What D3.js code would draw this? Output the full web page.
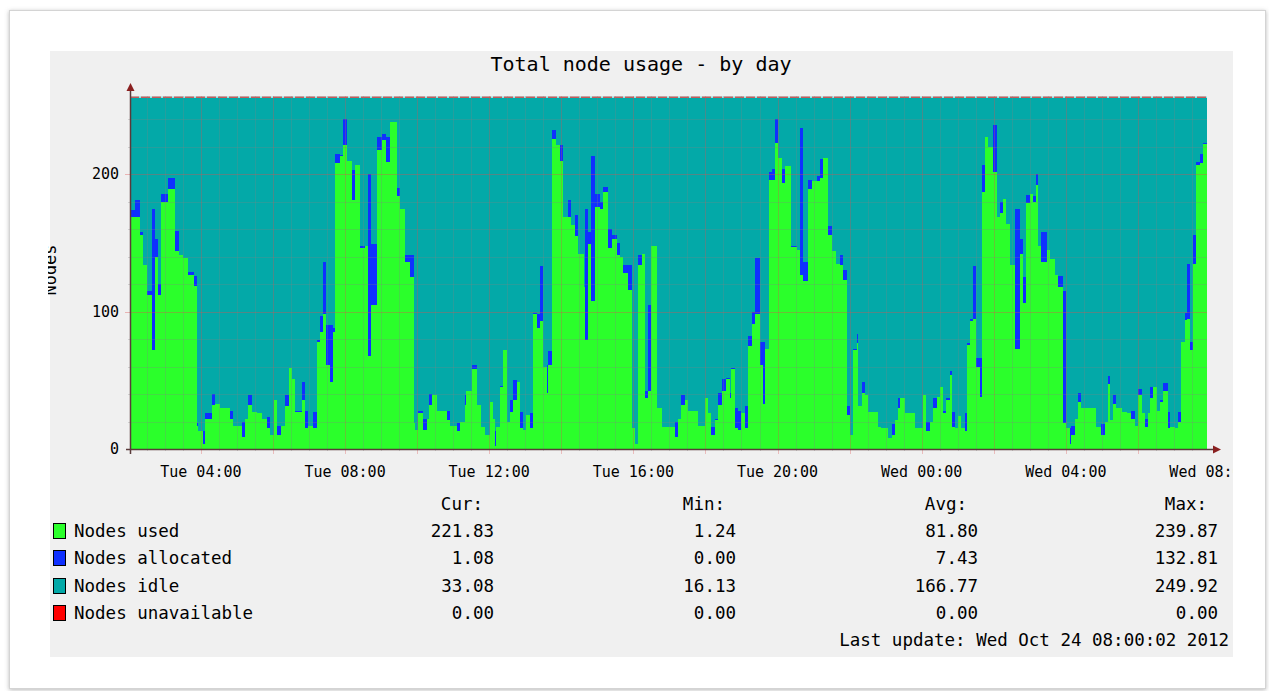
<!DOCTYPE html>
<html>
<head>
<meta charset="utf-8">
<script src="https://cdnjs.cloudflare.com/ajax/libs/d3/7.8.5/d3.min.js"></script>
<style>
    body { margin: 0; background: #ffffff; }
    svg text { font-family: "DejaVu Sans Mono", monospace; fill: #000; }
</style>
</head>
<body>
<div id="graph-container"></div>
<script>
// samples: minutes after Tue Oct 23 2012 02:00, values in nodes
var sampleMin = [2,10,19,24,30,38,44,49,54,66,77,83,91,99,108,113,116,124,127,138,144,152,169,174,188,193,199,205,213,221,230,235,241,246,254,260,266,271,277,288,293,299,307,313,318,324,329,335,340,344,352,357,363,371,377,385,393,399,404,413,421,429,435,446,451,460,468,474,476,482,490,496,499,504,513,529,535,546,551,560,562,571,579,587,593,601,607,610,612,618,623,629,635,640,646,651,657,662,668,673,679,684,690,696,698,704,712,718,723,732,737,743,748,757,759,765,770,776,784,790,798,804,812,818,823,831,838,843,848,854,859,865,870,879,887,909,915,920,926,931,948,959,965,970,976,981,987,995,1001,1003,1009,1015,1020,1026,1031,1037,1042,1051,1056,1059,1065,1070,1076,1081,1087,1092,1103,1112,1117,1123,1131,1137,1145,1150,1156,1164,1170,1178,1184,1189,1195,1200,1206,1212,1214,1220,1225,1231,1248,1253,1264,1270,1275,1281,1284,1292,1309,1322,1328,1334,1339,1345,1350,1356,1361,1367,1370,1375,1381,1386,1392,1395,1400,1406,1411,1417,1420,1425,1431,1439,1445,1450,1456,1461,1467,1475,1483,1489,1494,1500,1506,1511,1514,1519,1528,1533,1542,1547,1556,1561,1567,1569,1575,1580,1586,1611,1619,1625,1630,1633,1639,1644,1653,1661,1669,1675,1680,1686,1691,1697,1700,1705,1711,1716,1722,1730,1733,1741,1747,1752,1758,1761,1766,1772,1777,1783,1788];
var nodesUsed = [169,169,156,134,112,72,140,112,180,189,144,141,139,127,119,17,13,4,22,32,33,30,22,17,9,22,32,27,26,22,15,10,36,10,17,31,59,51,27,36,15,17,15,78,85,98,61,49,85,208,213,221,210,181,207,146,148,68,105,218,225,209,238,184,175,136,125,19,14,26,14,22,32,39,28,21,17,13,20,32,42,58,32,16,10,34,22,2,16,45,72,20,27,36,49,15,14,25,15,98,88,93,60,41,61,226,221,210,169,169,163,155,142,118,79,149,108,176,175,187,146,153,141,140,128,116,15,4,134,142,37,42,148,30,16,9,22,32,36,28,17,37,26,10,21,32,42,51,37,58,15,14,26,15,75,91,98,61,33,73,196,196,223,212,194,206,147,145,127,122,189,195,195,197,212,156,144,135,134,123,25,10,72,77,31,41,39,27,16,15,8,10,21,30,37,26,15,39,13,20,30,38,45,26,36,54,16,15,24,15,13,76,93,95,60,38,187,227,220,202,169,172,182,164,134,73,142,106,179,186,180,192,148,136,145,138,127,118,19,15,4,10,22,34,30,16,10,20,47,21,33,30,27,26,22,17,39,26,16,26,37,45,28,34,42,15,16,15,20,78,94,95,72,135,207,208,222];
var nodesAllocated = [5,12,2,0,3,103,13,8,6,8,15,0,0,2,7,2,0,9,4,8,0,0,6,0,11,0,7,0,0,0,8,0,0,7,0,8,0,0,1,13,13,0,12,1,12,38,29,41,3,7,1,19,0,22,0,2,0,132,44,9,4,18,0,6,0,5,16,0,0,2,8,0,8,0,0,7,0,6,0,7,0,3,0,0,0,0,0,11,0,1,0,0,9,14,0,12,0,0,11,1,10,40,0,20,10,6,0,11,0,12,0,15,0,0,96,9,105,10,5,4,14,3,9,0,6,18,0,0,7,0,5,63,0,0,0,11,0,7,0,0,0,0,0,6,1,9,9,1,4,1,15,14,0,16,7,9,41,17,45,0,6,8,17,0,10,0,1,0,107,14,7,0,4,14,0,6,0,0,7,7,6,0,1,7,0,8,0,0,0,0,0,8,0,7,0,0,0,0,7,0,7,0,0,2,1,3,11,0,0,0,13,1,2,38,6,28,20,0,0,34,0,8,0,0,0,102,11,19,6,0,4,8,0,22,0,0,0,8,96,0,11,7,0,7,0,0,8,0,6,0,6,0,0,0,6,0,5,0,6,0,8,0,0,2,6,12,0,0,7,0,5,40,6,21,2,7,1];
var nodesUnavailable = 0;
var nodeCapacity = 256;

var seriesKeys = ["used", "allocated", "idle", "unavailable"];
var seriesNames = ["Nodes used", "Nodes allocated", "Nodes idle", "Nodes unavailable"];
var seriesColors = ["#2bff2b", "#0f30ff", "#03a9a8", "#ff0000"];

var statHeaders = ["Cur:", "Min:", "Avg:", "Max:"];
var curVals = ["221.83", "1.08", "33.08", "0.00"];
var minVals = ["1.24", "0.00", "16.13", "0.00"];
var avgVals = ["81.80", "7.43", "166.77", "0.00"];
var maxVals = ["239.87", "132.81", "249.92", "0.00"];

var yTickLabels = [0, 100, 200];
var chartTitle = "Total node usage - by day";
var yTitle = "Nodes";
var lastUpdate = "Last update: Wed Oct 24 08:00:02 2012";

var width = 1269,
    height = 691;

function minuteToDate(m) {
    return new Date(2012, 9, 23, 2, 0, 0, 0).getTime() + m * 60000;
}

var startDate = new Date(minuteToDate(2)),
    endDate = new Date(minuteToDate(1795));

var rows = sampleMin.map(function(m, i) {
    return {
        date: new Date(minuteToDate(m)),
        used: nodesUsed[i],
        allocated: nodesAllocated[i],
        idle: nodeCapacity - nodesUsed[i] - nodesAllocated[i] - nodesUnavailable,
        unavailable: nodesUnavailable
    };
});
// hold the last sample until the end of the graph
var lastRow = Object.assign({}, rows[rows.length - 1]);
lastRow.date = endDate;
rows.push(lastRow);

var x = d3.scaleTime().domain([startDate, endDate]).range([130, 1207]);
var y = d3.scaleLinear().domain([0, 257]).range([449, 96]);

var svg = d3.select("#graph-container").append("svg")
    .attr("width", width)
    .attr("height", height);

var defs = svg.append("defs");
var shadow = defs.append("filter").attr("id", "shadow")
    .attr("x", "-2%").attr("y", "-2%").attr("width", "104%").attr("height", "104%");
shadow.append("feDropShadow")
    .attr("dx", 0).attr("dy", 1)
    .attr("stdDeviation", 2)
    .attr("flood-color", "#888")
    .attr("flood-opacity", 0.6);

defs.append("clipPath").attr("id", "panel-clip")
    .append("rect").attr("x", 50).attr("y", 51).attr("width", 1183).attr("height", 606);
defs.append("clipPath").attr("id", "ylabel-clip")
    .append("rect").attr("x", 48).attr("y", 51).attr("width", 60).attr("height", 606);

// page frame
svg.append("rect")
    .attr("x", 9.5).attr("y", 10.5)
    .attr("width", 1256).attr("height", 678)
    .attr("fill", "#ffffff")
    .attr("stroke", "#d4d4d4")
    .attr("filter", "url(#shadow)");

// graph background
svg.append("rect")
    .attr("x", 50).attr("y", 51)
    .attr("width", 1183).attr("height", 606)
    .attr("fill", "#f0f0f0");

// stacked areas
var stack = d3.stack().keys(seriesKeys);
var layers = stack(rows);

var area = d3.area()
    .curve(d3.curveStepAfter)
    .x(function(d) { return x(d.data.date); })
    .y0(function(d) { return y(d[0]); })
    .y1(function(d) { return y(d[1]); });

svg.append("g").attr("class", "areas")
    .selectAll("path")
    .data(layers)
    .enter().append("path")
    .attr("fill", function(d, i) { return seriesColors[i]; })
    .attr("shape-rendering", "crispEdges")
    .attr("d", area);

// unavailable line sits on top of the stack
svg.append("line")
    .attr("x1", x(startDate)).attr("x2", x(endDate))
    .attr("y1", y(nodeCapacity)).attr("y2", y(nodeCapacity))
    .attr("stroke", "#8fe3e3").attr("stroke-width", 1.5);
svg.append("line")
    .attr("x1", x(startDate)).attr("x2", x(endDate))
    .attr("y1", y(nodeCapacity)).attr("y2", y(nodeCapacity))
    .attr("stroke", "#c65a5a").attr("stroke-width", 1.5)
    .attr("stroke-dasharray", "9,2");

// grid
var grid = svg.append("g").attr("class", "grid");
var majorTimes = d3.timeHour.every(2).range(startDate, endDate);
var minorTimes = d3.timeMinute.every(30).range(startDate, endDate).filter(function(t) {
    return t.getMinutes() != 0 || t.getHours() % 2 != 0;
});
var yMinor = y.ticks(13).filter(function(v) { return v > 0 && yTickLabels.indexOf(v) < 0; });
var yMajor = yTickLabels.filter(function(v) { return v > 0; });

grid.selectAll(".vminor").data(minorTimes).enter().append("line")
    .attr("class", "vminor")
    .attr("x1", function(d) { return Math.round(x(d)) + 0.5; })
    .attr("x2", function(d) { return Math.round(x(d)) + 0.5; })
    .attr("y1", y(257)).attr("y2", 451)
    .attr("stroke", "rgba(130,130,130,0.28)");
grid.selectAll(".hminor").data(yMinor).enter().append("line")
    .attr("class", "hminor")
    .attr("x1", 128).attr("x2", x(endDate))
    .attr("y1", function(d) { return Math.round(y(d)) + 0.5; })
    .attr("y2", function(d) { return Math.round(y(d)) + 0.5; })
    .attr("stroke", "rgba(130,130,130,0.28)");
grid.selectAll(".vmajor").data(majorTimes).enter().append("line")
    .attr("class", "vmajor")
    .attr("x1", function(d) { return Math.round(x(d)) + 0.5; })
    .attr("x2", function(d) { return Math.round(x(d)) + 0.5; })
    .attr("y1", y(257)).attr("y2", 454)
    .attr("stroke", "rgba(222,79,79,0.32)");
grid.selectAll(".hmajor").data(yMajor).enter().append("line")
    .attr("class", "hmajor")
    .attr("x1", 125).attr("x2", x(endDate))
    .attr("y1", function(d) { return Math.round(y(d)) + 0.5; })
    .attr("y2", function(d) { return Math.round(y(d)) + 0.5; })
    .attr("stroke", "rgba(222,79,79,0.38)");

// axes
var axisColor = "#5a3a3a",
    arrowColor = "#8a2020";
svg.append("line")
    .attr("x1", 126).attr("x2", 1213)
    .attr("y1", 449.5).attr("y2", 449.5)
    .attr("stroke", axisColor).attr("stroke-width", 1.5);
svg.append("path")
    .attr("d", "M1213,445.5L1221,449.5L1213,453.5Z")
    .attr("fill", arrowColor);
svg.append("line")
    .attr("x1", 130.5).attr("x2", 130.5)
    .attr("y1", 454).attr("y2", 91)
    .attr("stroke", axisColor).attr("stroke-width", 1.5);
svg.append("path")
    .attr("d", "M126.5,91L130.5,83L134.5,91Z")
    .attr("fill", arrowColor);

// tick labels
var labelTimes = d3.timeHour.every(4).range(startDate, new Date(minuteToDate(1801)));
svg.append("g").attr("clip-path", "url(#panel-clip)")
    .selectAll("text").data(labelTimes).enter().append("text")
    .attr("x", function(d) { return x(d); })
    .attr("y", 477)
    .attr("text-anchor", "middle")
    .attr("font-size", "15px")
    .text(d3.timeFormat("%a %H:%M"));

svg.append("g").selectAll("text").data(yTickLabels).enter().append("text")
    .attr("x", 119)
    .attr("y", function(d) { return y(d) + 5; })
    .attr("text-anchor", "end")
    .attr("font-size", "15px")
    .text(function(d) { return d; });

// titles
svg.append("text")
    .attr("x", 641).attr("y", 71)
    .attr("text-anchor", "middle")
    .attr("font-size", "20px")
    .text(chartTitle);

svg.append("g").attr("clip-path", "url(#ylabel-clip)")
    .append("text")
    .attr("transform", "translate(56,270) rotate(-90)")
    .attr("text-anchor", "middle")
    .attr("font-size", "17px")
    .text(yTitle);

// legend
var rowY = [531, 558, 586, 613];
var statCols = [
    { header: statHeaders[0], vals: curVals, right: 494, headRight: 483 },
    { header: statHeaders[1], vals: minVals, right: 736, headRight: 725 },
    { header: statHeaders[2], vals: avgVals, right: 978, headRight: 967 },
    { header: statHeaders[3], vals: maxVals, right: 1218, headRight: 1207 }
];

var legend = svg.append("g").attr("class", "legend");
legend.selectAll("rect").data(seriesNames).enter().append("rect")
    .attr("x", 53.5)
    .attr("y", function(d, i) { return rowY[i] - 7.5; })
    .attr("width", 12).attr("height", 15)
    .attr("fill", function(d, i) { return seriesColors[i]; })
    .attr("stroke", "#000");
legend.selectAll(".lname").data(seriesNames).enter().append("text")
    .attr("class", "lname")
    .attr("x", 74)
    .attr("y", function(d, i) { return rowY[i] + 6; })
    .attr("font-size", "17.5px")
    .text(function(d) { return d; });

statCols.forEach(function(col) {
    legend.append("text")
        .attr("x", col.headRight).attr("y", 510)
        .attr("text-anchor", "end")
        .attr("font-size", "17.5px")
        .text(col.header);
    col.vals.forEach(function(v, i) {
        legend.append("text")
            .attr("x", col.right).attr("y", rowY[i] + 6)
            .attr("text-anchor", "end")
            .attr("font-size", "17.5px")
            .text(v);
    });
});

legend.append("text")
    .attr("x", 1229).attr("y", 646)
    .attr("text-anchor", "end")
    .attr("font-size", "17.5px")
    .text(lastUpdate);
</script>
</body>
</html>
